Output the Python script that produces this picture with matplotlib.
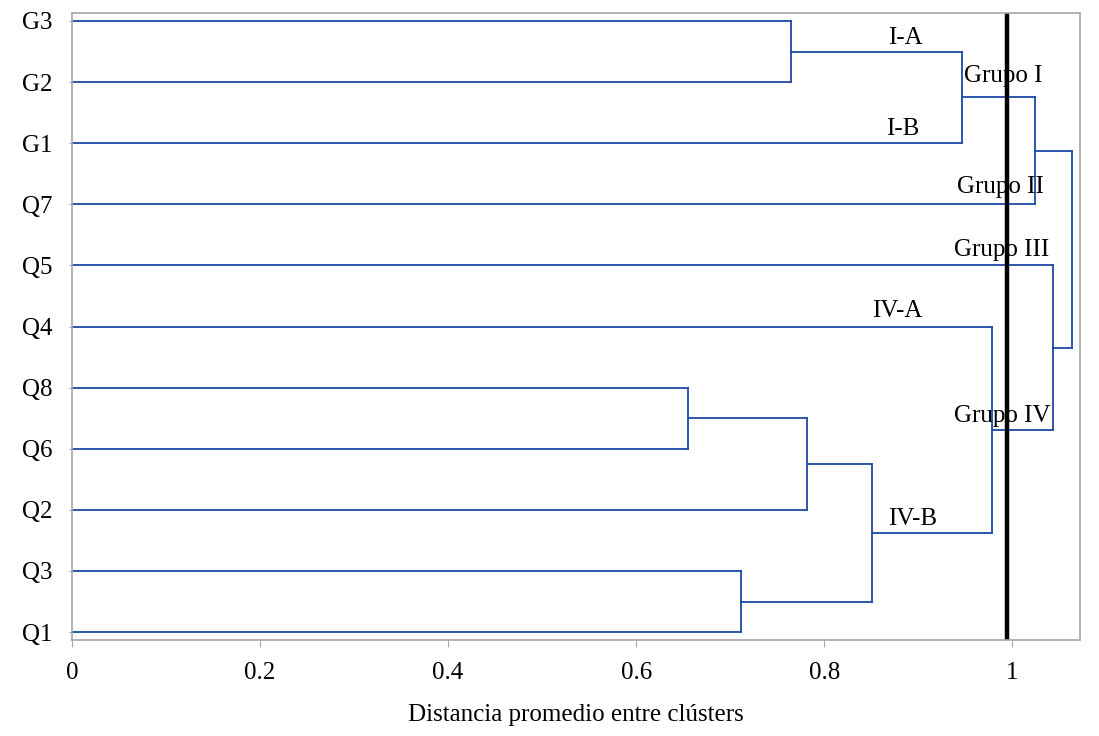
import numpy as np
import matplotlib
matplotlib.use("Agg")
import matplotlib.pyplot as plt

plt.rcParams['font.family'] = ['Liberation Serif', 'DejaVu Serif']

# leaves from top to bottom
leaves = ["G3", "G2", "G1", "Q7", "Q5", "Q4", "Q8", "Q6", "Q2", "Q3", "Q1"]
# merges: (child a, child b, distance); new node ids start at len(leaves)
merge_a = [0, 11, 12, 6, 14, 9, 15, 5, 4, 13]
merge_b = [1, 2, 3, 7, 8, 10, 16, 17, 18, 19]
merge_h = [0.765, 0.946, 1.024, 0.655, 0.782, 0.712, 0.851, 0.978, 1.043, 1.064]
cut = 0.994

group_labels = ["I-A", "Grupo I", "I-B", "Grupo II", "Grupo III", "IV-A", "Grupo IV", "IV-B"]
label_x = [0.886, 0.990, 0.884, 0.987, 0.989, 0.878, 0.989, 0.894]
label_y = [9.72, 9.10, 8.23, 7.28, 6.25, 5.25, 3.535, 1.85]

blue = "#1D4AA8"
gray = "#A6A6A6"
fs = 18

fig = plt.figure(figsize=(10.99, 7.36), dpi=100)
ax = fig.add_axes([0.0655, 0.1304, 0.9172, 0.8519])

n = len(leaves)
ypos = {i: n - 1 - i for i in range(n)}
xpos = {i: 0.0 for i in range(n)}
for k in range(len(merge_h)):
    a, b, h = merge_a[k], merge_b[k], merge_h[k]
    ax.plot([xpos[a], h], [ypos[a], ypos[a]], color=blue, lw=1.3)
    ax.plot([xpos[b], h], [ypos[b], ypos[b]], color=blue, lw=1.3)
    ax.plot([h, h], [ypos[a], ypos[b]], color=blue, lw=1.3)
    node = n + k
    ypos[node] = (ypos[a] + ypos[b]) / 2
    xpos[node] = h

ax.axvline(cut, color="black", lw=3.2)

for t, x, y in zip(group_labels, label_x, label_y):
    ax.text(x, y, t, ha="center", va="center", fontsize=fs)

ax.set_xlim(0, 1.072)
ax.set_ylim(-0.13, n - 1 + 0.13)
ax.set_xticks([0, 0.2, 0.4, 0.6, 0.8, 1])
ax.set_xticklabels(["0", "0.2", "0.4", "0.6", "0.8", "1"])
ax.set_yticks([ypos[i] for i in range(n)])
ax.set_yticklabels(leaves)
ax.tick_params(axis="x", length=5, color=gray, labelsize=fs, pad=11)
ax.tick_params(axis="y", length=2, color=gray, labelsize=fs, pad=12)
for s in ax.spines.values():
    s.set_color(gray)
    s.set_linewidth(1.2)
ax.set_xlabel("Distancia promedio entre clústers", fontsize=fs, labelpad=14)

fig.savefig("out.png", dpi=100)
